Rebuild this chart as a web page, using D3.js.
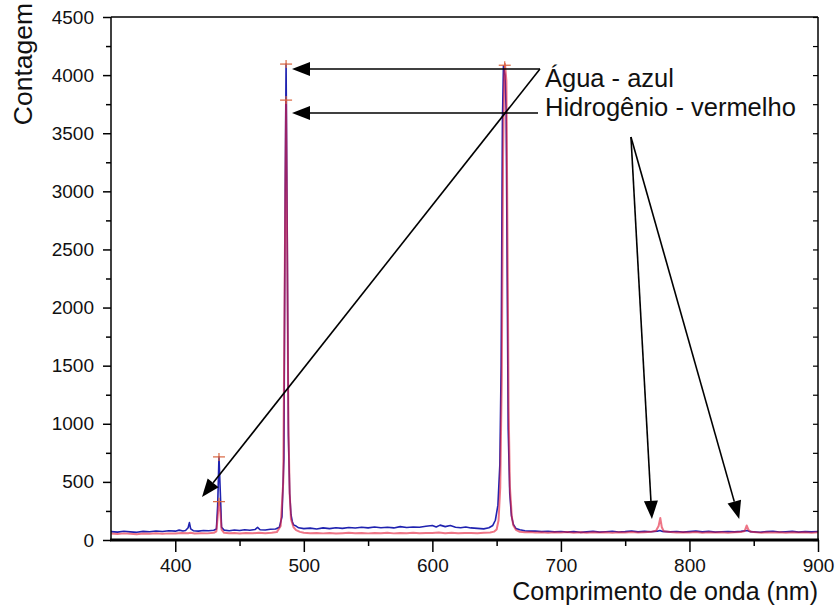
<!DOCTYPE html>
<html>
<head>
<meta charset="utf-8">
<script src="https://cdn.jsdelivr.net/npm/d3@7"></script>
<style>
  html, body { margin: 0; padding: 0; background: #fff; }
  svg { display: block; font-family: "Liberation Sans", Arial, sans-serif; }
</style>
</head>
<body>
<svg id="chart" width="838" height="611"></svg>
<script>
// Emission spectra: water (blue) and hydrogen (red), counts vs wavelength (nm)
const xTicksMajor = [400, 500, 600, 700, 800, 900];
const xTicksMinor = [450, 550, 650, 750, 850];
const yTicksMajor = [0, 500, 1000, 1500, 2000, 2500, 3000, 3500, 4000, 4500];
const yTicksMinor = [250, 750, 1250, 1750, 2250, 2750, 3250, 3750, 4250];

// Água (water) spectrum: [wavelength, count]
const aguaSpectrum = [
  [350, 72], [355, 68], [360, 75], [365, 70], [370, 66], [375, 74], [380, 71], [385, 78],
  [390, 73], [395, 80], [400, 76], [403, 85], [406, 78], [408, 82], [410, 105], [411, 150],
  [412, 95], [414, 80], [418, 76], [422, 82], [426, 79], [430, 84], [432, 95], [433, 300],
  [434, 715], [435, 420], [436, 110], [438, 85], [442, 80], [446, 86], [450, 82], [454, 88],
  [458, 84], [462, 90], [464, 108], [466, 88], [470, 86], [474, 92], [478, 95], [481, 110],
  [483, 200], [484.5, 700], [485.5, 3000], [486.2, 4095], [487, 2800], [488, 900], [489, 400],
  [490, 220], [491, 160], [492, 130], [494, 120], [496, 105], [500, 98], [505, 102], [510, 95],
  [515, 104], [520, 98], [525, 106], [530, 100], [535, 108], [540, 103], [545, 110], [550, 104],
  [555, 112], [560, 106], [565, 110], [570, 104], [575, 115], [580, 108], [585, 112], [590, 110],
  [595, 118], [600, 125], [603, 112], [606, 128], [610, 115], [614, 124], [618, 110], [622, 106],
  [626, 112], [630, 104], [635, 100], [640, 96], [644, 105], [647, 125], [649, 170], [651, 300],
  [652.5, 650], [653.5, 1500], [654.5, 3600], [655.3, 4080], [656.5, 4000], [657.4, 3700],
  [658.2, 2300], [659, 950], [660.2, 400], [661.5, 210], [663, 135], [665, 100], [668, 88],
  [672, 80], [676, 76], [680, 78], [685, 72], [690, 75], [695, 70], [700, 73], [705, 68],
  [710, 72], [715, 66], [720, 70], [725, 74], [730, 68], [735, 71], [740, 75], [745, 69],
  [750, 72], [755, 78], [760, 70], [765, 74], [770, 71], [775, 76], [777, 82], [779, 74],
  [785, 70], [790, 73], [795, 68], [800, 72], [805, 76], [810, 70], [815, 74], [820, 68],
  [825, 71], [830, 73], [835, 70], [840, 74], [845, 82], [847, 72], [850, 70], [855, 67],
  [860, 72], [865, 75], [870, 69], [875, 71], [880, 74], [885, 68], [890, 72], [895, 70],
  [900, 73]
];

// Hidrogênio (hydrogen) spectrum: [wavelength, count]
const hidrogenioSpectrum = [
  [350, 55], [355, 52], [360, 57], [365, 54], [370, 50], [375, 56], [380, 53], [385, 58],
  [390, 54], [395, 57], [400, 55], [405, 60], [410, 58], [412, 62], [415, 56], [420, 59],
  [425, 57], [430, 62], [432, 75], [433, 200], [434, 330], [435, 250], [436, 90], [438, 62],
  [442, 58], [446, 60], [450, 56], [455, 61], [460, 58], [465, 62], [470, 59], [475, 63],
  [479, 68], [482, 120], [484, 500], [485.3, 2500], [486.2, 3785], [487, 2600], [488, 1000],
  [489, 400], [490, 180], [492, 110], [494, 85], [497, 70], [500, 62], [505, 58], [510, 61],
  [515, 57], [520, 60], [525, 56], [530, 59], [535, 62], [540, 58], [545, 61], [550, 57],
  [555, 60], [560, 58], [565, 62], [570, 57], [575, 61], [580, 59], [585, 63], [590, 58],
  [595, 61], [600, 60], [605, 64], [610, 59], [615, 62], [620, 58], [625, 61], [630, 60],
  [635, 58], [640, 62], [645, 64], [648, 72], [650, 90], [651.5, 170], [652.8, 450],
  [654, 1400], [655, 3300], [655.9, 4000], [656.5, 4095], [657.6, 3950], [658.5, 2500],
  [659.3, 1150], [660.3, 460], [661.8, 200], [663, 125], [665, 88], [668, 70], [672, 66],
  [676, 68], [680, 64], [685, 67], [690, 63], [695, 66], [700, 64], [705, 68], [710, 63],
  [715, 66], [720, 62], [725, 67], [730, 64], [735, 66], [740, 63], [745, 67], [750, 64],
  [755, 68], [760, 65], [765, 67], [770, 70], [774, 80], [776, 120], [777.3, 190],
  [778.5, 110], [780, 75], [785, 68], [790, 65], [795, 67], [800, 64], [805, 68], [810, 63],
  [815, 66], [820, 64], [825, 67], [830, 63], [835, 66], [840, 68], [843, 78], [844.5, 125],
  [846, 85], [848, 70], [852, 66], [856, 63], [860, 67], [865, 64], [870, 66], [875, 63],
  [880, 67], [885, 64], [890, 66], [895, 63], [900, 66]
];

// Peak-top markers (+)
const peakMarkers = [[434, 715], [434, 330], [486.2, 4095], [486.2, 3785], [656.3, 4085]];

// Annotations (data coordinates)
const labels = [
  { text: "Água - azul", at: [687.6, 3898] },
  { text: "Hidrogênio - vermelho", at: [687.6, 3648] }
];
const arrows = [
  { from: [683.7, 4053], to: [490.8, 4053] },
  { from: [682.2, 3674], to: [490.8, 3674] },
  { from: [683.7, 4053], to: [420.8, 370] },
  { from: [754.5, 3468], to: [770.8, 181] },
  { from: [754.5, 3468], to: [838.7, 181] }
];

const svg = d3.select("#chart");
const plotLeft = 111, plotRight = 818, plotTop = 17, plotBottom = 540;

const x = d3.scaleLinear().domain([350, 900]).range([plotLeft, plotRight]);
const y = d3.scaleLinear().domain([0, 4500]).range([plotBottom, plotTop]);

const plot = svg.append("g");
plot.append("clipPath").attr("id", "clip")
  .append("rect").attr("x", plotLeft).attr("y", plotTop)
  .attr("width", plotRight - plotLeft).attr("height", plotBottom - plotTop);

const line = d3.line().x(d => x(d[0])).y(d => y(d[1]));

plot.append("path").datum(aguaSpectrum)
  .attr("clip-path", "url(#clip)")
  .attr("d", line).attr("fill", "none")
  .attr("stroke", "#1f22b0").attr("stroke-width", 1.6).attr("stroke-linejoin", "round");

plot.append("path").datum(hidrogenioSpectrum)
  .attr("clip-path", "url(#clip)")
  .attr("d", line).attr("fill", "none")
  .attr("stroke", "#e3203c").attr("stroke-opacity", 0.62)
  .attr("stroke-width", 2).attr("stroke-linejoin", "round");

// + markers
const mk = plot.append("g").attr("stroke", "#d9653f").attr("stroke-width", 1.2);
peakMarkers.forEach(([wx, c]) => {
  mk.append("line").attr("x1", x(wx) - 6).attr("x2", x(wx) + 6).attr("y1", y(c)).attr("y2", y(c));
  mk.append("line").attr("x1", x(wx)).attr("x2", x(wx)).attr("y1", y(c) - 4).attr("y2", y(c) + 4);
});

// Axes
const tickFont = g => g.selectAll("text")
  .attr("font-size", 19).attr("fill", "#111").attr("font-family", "Liberation Sans, Arial, sans-serif");

const gLeft = svg.append("g").attr("transform", `translate(${plotLeft},0)`);
gLeft.call(d3.axisLeft(y).tickValues(yTicksMajor).tickSize(8).tickPadding(9).tickFormat(d3.format("d")))
  .call(tickFont);
gLeft.append("g").call(d3.axisLeft(y).tickValues(yTicksMinor).tickSize(5).tickFormat(""));
gLeft.selectAll(".domain").remove();
gLeft.selectAll("line").attr("stroke", "#000").attr("stroke-width", 1.5);

const gBottom = svg.append("g").attr("transform", `translate(0,${plotBottom})`);
gBottom.call(d3.axisBottom(x).tickValues(xTicksMajor).tickSize(12).tickPadding(7).tickFormat(d3.format("d")))
  .call(tickFont);
gBottom.append("g").call(d3.axisBottom(x).tickValues(xTicksMinor).tickSize(6).tickFormat(""));
gBottom.selectAll(".domain").remove();
gBottom.selectAll("line").attr("stroke", "#000").attr("stroke-width", 1.5);

// Right axis (inward ticks)
const gRight = svg.append("g").attr("transform", `translate(${plotRight},0)`);
gRight.call(d3.axisLeft(y).tickValues(yTicksMajor.concat(yTicksMinor)).tickSize(5).tickFormat(""));
gRight.selectAll(".domain").remove();
gRight.selectAll("line").attr("stroke", "#000").attr("stroke-width", 1.2);

// Frame
const frame = svg.append("g").attr("stroke", "#000");
frame.append("line").attr("x1", plotLeft).attr("x2", plotLeft).attr("y1", plotTop).attr("y2", plotBottom).attr("stroke-width", 1.5);
frame.append("line").attr("x1", plotRight).attr("x2", plotRight).attr("y1", plotTop).attr("y2", plotBottom).attr("stroke-width", 1.5);
frame.append("line").attr("x1", plotLeft).attr("x2", plotRight).attr("y1", plotTop).attr("y2", plotTop).attr("stroke-width", 1.5);
frame.append("line").attr("x1", plotLeft - 1).attr("x2", plotRight + 1).attr("y1", plotBottom).attr("y2", plotBottom).attr("stroke-width", 3.2);

// Axis titles
svg.append("text").attr("x", plotRight).attr("y", 600).attr("text-anchor", "end")
  .attr("font-size", 25).attr("fill", "#111").text("Comprimento de onda (nm)");
svg.append("text").attr("transform", "translate(32,64) rotate(-90)").attr("text-anchor", "middle")
  .attr("font-size", 26.5).attr("fill", "#111").text("Contagem");

// Annotations
const ann = svg.append("g");
labels.forEach(l => {
  ann.append("text").attr("x", x(l.at[0])).attr("y", y(l.at[1]))
    .attr("font-size", 25.5).attr("fill", "#111").text(l.text);
});
arrows.forEach(a => {
  const x1 = x(a.from[0]), y1 = y(a.from[1]), x2 = x(a.to[0]), y2 = y(a.to[1]);
  const ang = Math.atan2(y2 - y1, x2 - x1);
  const len = 18, hw = 7;
  const bx = x2 - len * Math.cos(ang), by = y2 - len * Math.sin(ang);
  ann.append("line").attr("x1", x1).attr("y1", y1).attr("x2", bx).attr("y2", by)
    .attr("stroke", "#000").attr("stroke-width", 1.6);
  const px = -Math.sin(ang) * hw, py = Math.cos(ang) * hw;
  ann.append("path")
    .attr("d", `M${x2},${y2}L${bx + px},${by + py}L${bx - px},${by - py}Z`)
    .attr("fill", "#000");
});
</script>
</body>
</html>
